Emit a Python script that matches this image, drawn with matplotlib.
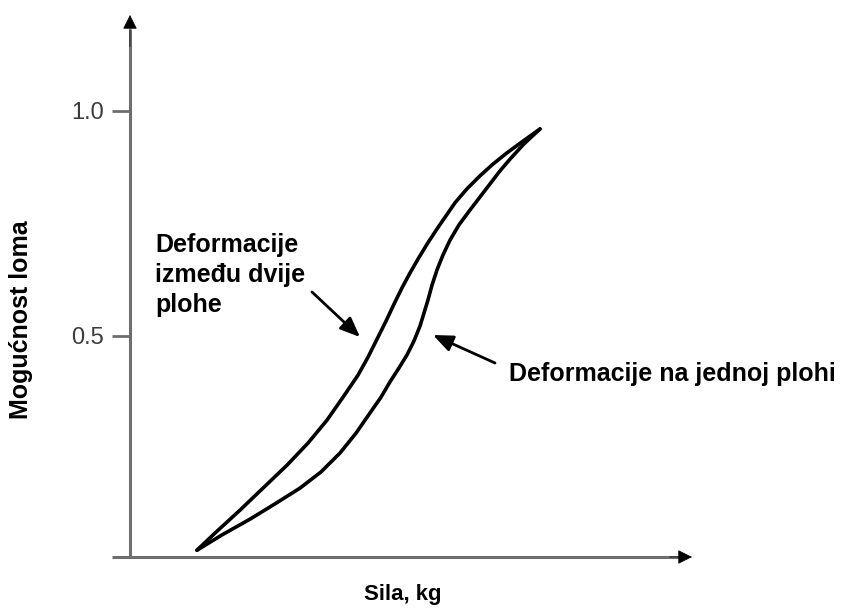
import matplotlib
matplotlib.use("Agg")
import matplotlib.pyplot as plt

# --------------------------------------------------------
# DATA
# --------------------------------------------------------

# deformacije izmedu dvije plohe (upper curve)
x_dvije = [1.192, 1.512, 1.957, 2.367, 2.794, 3.167, 3.505, 3.790, 4.057, 4.235, 4.395, 4.555,
           4.698, 4.840, 4.982, 5.125, 5.285, 5.463, 5.623, 5.783, 5.996, 6.228, 6.459, 6.708,
           6.993, 7.295]
y_dvije = [0.024, 0.062, 0.113, 0.162, 0.213, 0.262, 0.313, 0.364, 0.413, 0.453, 0.493, 0.533,
           0.571, 0.607, 0.640, 0.671, 0.704, 0.738, 0.767, 0.796, 0.827, 0.856, 0.882, 0.907,
           0.933, 0.960]

# deformacije na jednoj plohi (lower curve)
x_jedna = [1.192, 1.637, 2.135, 2.580, 3.025, 3.399, 3.737, 4.021, 4.270, 4.466, 4.626, 4.786,
           4.929, 5.053, 5.160, 5.231, 5.302, 5.374, 5.463, 5.569, 5.694, 5.854, 6.050, 6.228,
           6.406, 6.584, 6.762, 7.011, 7.295]
y_jedna = [0.024, 0.058, 0.093, 0.127, 0.162, 0.198, 0.240, 0.284, 0.329, 0.364, 0.398, 0.429,
           0.458, 0.489, 0.522, 0.551, 0.580, 0.613, 0.647, 0.680, 0.713, 0.747, 0.780, 0.809,
           0.838, 0.867, 0.893, 0.927, 0.960]

y_ticks = [0.5, 1.0]
y_ticklabels = ["0.5", "1.0"]

# --------------------------------------------------------
# FIGURE
# --------------------------------------------------------

fam = ["Liberation Sans", "DejaVu Sans"]
axis_col = "#6e6e6e"

fig = plt.figure(figsize=(8.46, 6.08), dpi=100)
ax = fig.add_axes([130 / 846, 51 / 608, 562 / 846, 542 / 608])

ybot, ytop = 0.0089, 1.2133
ax.set_xlim(0, 10)
ax.set_ylim(ybot, ytop)
for s in ax.spines.values():
    s.set_visible(False)

# axes with arrow heads
ax.plot([-0.32, 9.8], [ybot, ybot], color=axis_col, lw=2.2, clip_on=False, solid_capstyle="butt")
ax.plot([0, 0], [ybot, ytop - 0.03], color=axis_col, lw=2.2, clip_on=False, solid_capstyle="butt")
ax.annotate("", xy=(10, ybot), xytext=(9.6, ybot),
            arrowprops=dict(arrowstyle="-|>,head_length=0.9,head_width=0.45", color="black", lw=0.5,
                            shrinkA=0, shrinkB=0), annotation_clip=False)
ax.annotate("", xy=(0, ytop), xytext=(0, ytop - 0.07),
            arrowprops=dict(arrowstyle="-|>,head_length=0.9,head_width=0.45", color="black", lw=0.5,
                            shrinkA=0, shrinkB=0), annotation_clip=False)

ax.set_xticks([])
ax.set_yticks(y_ticks)
ax.set_yticklabels(y_ticklabels, fontsize=17, color="#3c3c3c", family=fam)
ax.tick_params(axis="y", length=13, width=2, color=axis_col, pad=5.5)

# curves
ax.plot(x_dvije, y_dvije, color="black", lw=2.6, solid_capstyle="round", solid_joinstyle="round")
ax.plot(x_jedna, y_jedna, color="black", lw=2.6, solid_capstyle="round", solid_joinstyle="round")

# labels
fig.text(21 / 846, 1 - 320 / 608, "Mogućnost loma", rotation=90, ha="center", va="center",
         fontsize=18, fontweight="bold", family=fam)
fig.text(403 / 846, 1 - 600 / 608, "Sila, kg", ha="center", va="baseline",
         fontsize=16, fontweight="bold", family=fam)

for txt, yb in [("Deformacije", 252), ("između dvije", 282), ("plohe", 312)]:
    fig.text(155 / 846, 1 - yb / 608, txt, ha="left", va="baseline",
             fontsize=18, fontweight="bold", family=fam)
fig.text(509 / 846, 1 - 381 / 608, "Deformacije na jednoj plohi", ha="left", va="baseline",
         fontsize=18, fontweight="bold", family=fam)

# pointer arrows
arrow_kw = dict(arrowstyle="-|>,head_length=0.6,head_width=0.25", color="#555555", lw=2,
                mutation_scale=20, shrinkA=0, shrinkB=0)
ax.annotate("", xy=((360 - 130) / 56.2, (561 - 337) / 450), xytext=((312 - 130) / 56.2, (561 - 292) / 450),
            arrowprops=dict(arrow_kw, fc="black", ec="black"))
ax.annotate("", xy=((433 - 130) / 56.2, (561 - 335) / 450), xytext=((495 - 130) / 56.2, (561 - 363) / 450),
            arrowprops=dict(arrow_kw, fc="black", ec="black"))

fig.savefig("out.png", dpi=100, facecolor="white")
